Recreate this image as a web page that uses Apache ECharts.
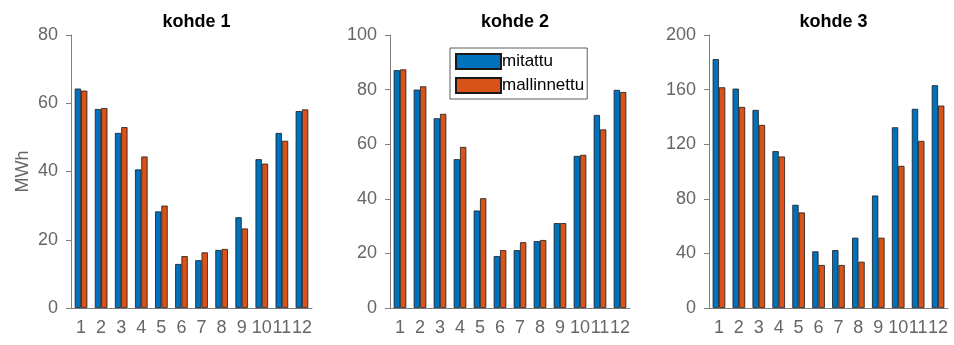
<!DOCTYPE html>
<html><head><meta charset="utf-8">
<script src="https://cdn.jsdelivr.net/npm/echarts@6/dist/echarts.min.js"></script>
<style>html,body{margin:0;padding:0;background:#fff}#c{width:954px;height:345px}</style>
</head><body><div id="c"></div>
<script>
const months = ['1','2','3','4','5','6','7','8','9','10','11','12'];
const titles = ['kohde 1','kohde 2','kohde 3'];
const seriesNames = ['mitattu','mallinnettu'];
const yMax = [80, 100, 200];
const yInterval = [20, 20, 40];
const k1Measured = [64.3,58.3,51.3,40.6,28.3,12.9,14.0,17.0,26.6,43.6,51.3,57.7];
const k1Modeled  = [63.7,58.6,53.0,44.4,30.0,15.2,16.3,17.3,23.3,42.3,49.0,58.2];
const k2Measured = [87.1,80.0,69.5,54.5,35.7,19.0,21.2,24.5,31.1,55.7,70.7,79.9];
const k2Modeled  = [87.4,81.2,71.1,59.0,40.2,21.2,24.1,24.9,31.1,56.1,65.4,79.1];
const k3Measured = [182.4,160.7,145.1,114.9,75.6,41.5,42.4,51.5,82.4,132.4,145.9,163.2];
const k3Modeled  = [161.7,147.3,134.1,111.0,70.0,31.5,31.5,33.9,51.5,104.1,122.4,148.3];

const measured = [k1Measured, k2Measured, k3Measured];
const modeled = [k1Modeled, k2Modeled, k3Modeled];
const colors = ['#0072BD', '#D95319'];
const gridLeft = [71, 390, 709];
const gridWidth = [241, 240, 239];
const axisCol = '#808080';
const txtCol = '#666666';
const font = 'Arial, "Liberation Sans", Helvetica, sans-serif';

const grids = [], xAxes = [], yAxes = [], series = [], tl = [];
for (let i = 0; i < 3; i++) {
  grids.push({left: gridLeft[i], top: 35, width: gridWidth[i], height: 273});
  tl.push({text: titles[i], left: gridLeft[i] + gridWidth[i] / 2, top: 8, textAlign: 'center',
    textStyle: {fontFamily: font, fontSize: 18, fontWeight: 'bold', color: '#000'}});
  xAxes.push({type: 'category', gridIndex: i, data: months, boundaryGap: true,
    axisLine: {lineStyle: {color: axisCol, width: 1}},
    axisTick: {alignWithLabel: true, length: 5, lineStyle: {color: axisCol}},
    axisLabel: {interval: 0, margin: 11, color: txtCol, fontSize: 18, fontFamily: font, hideOverlap: false},
    splitLine: {show: false}});
  yAxes.push({type: 'value', gridIndex: i, min: 0, max: yMax[i], interval: yInterval[i],
    name: i === 0 ? 'MWh' : '', nameLocation: 'middle', nameGap: 39, nameRotate: 90,
    nameTextStyle: {color: txtCol, fontSize: 18, fontFamily: font},
    axisLine: {show: true, lineStyle: {color: axisCol, width: 1}},
    axisTick: {show: true, length: 5, lineStyle: {color: axisCol}},
    axisLabel: {margin: 13, color: txtCol, fontSize: 18, fontFamily: font},
    splitLine: {show: false}});
  const sets = [measured[i], modeled[i]];
  for (let s = 0; s < 2; s++) {
    series.push({type: 'bar', name: seriesNames[s], xAxisIndex: i, yAxisIndex: i,
      data: sets[s], barWidth: 6.3, barGap: '0%',
      itemStyle: {color: colors[s], borderColor: '#1a1a1a', borderWidth: 0.8},
      emphasis: {disabled: true}, animation: false});
  }
}

const chart = echarts.init(document.getElementById('c'), null, {renderer: 'canvas'});
chart.setOption({
  animation: false,
  title: tl,
  grid: grids,
  xAxis: xAxes,
  yAxis: yAxes,
  legend: {data: seriesNames, orient: 'vertical', left: 450, top: 48, icon: 'rect',
    itemWidth: 45, itemHeight: 15, itemGap: 7, padding: [5, 3, 5, 5],
    backgroundColor: '#fff', borderColor: '#333', borderWidth: 0.8,
    textStyle: {fontSize: 17, fontFamily: font, color: '#000', padding: [0, 0, 0, -4]},
    selectedMode: false},
  series: series
});
</script></body></html>
